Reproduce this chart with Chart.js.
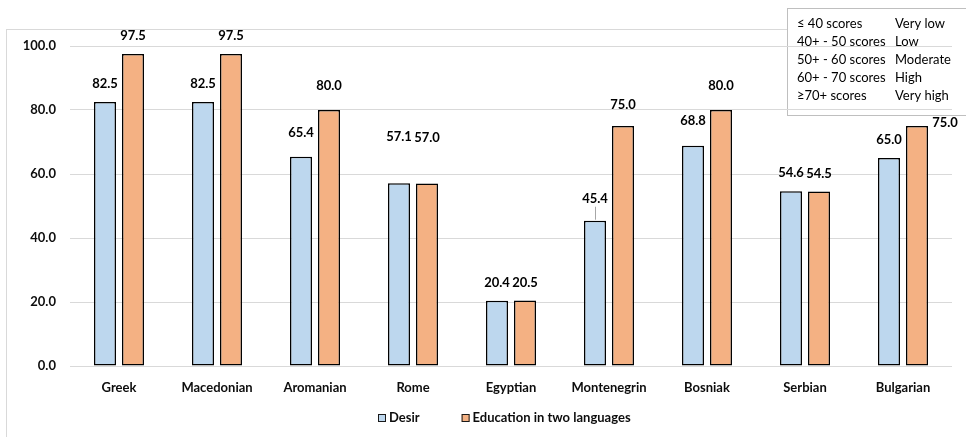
<!DOCTYPE html>
<html>
<head>
<meta charset="utf-8">
<script src="https://cdn.jsdelivr.net/npm/chart.js@4.4.1/dist/chart.umd.min.js"></script>
<style>
  html, body { margin: 0; padding: 0; background: #ffffff; }
  #wrap { width: 966px; height: 437px; position: relative; }
</style>
</head>
<body>
<div id="wrap"><canvas id="c" width="966" height="437"></canvas></div>
<script>
// Groups on the x axis
const categories = ['Greek', 'Macedonian', 'Aromanian', 'Rome', 'Egyptian', 'Montenegrin', 'Bosniak', 'Serbian', 'Bulgarian'];
// Scores per group
const desirScores = [82.5, 82.5, 65.4, 57.1, 20.4, 45.4, 68.8, 54.6, 65.0];
const bilingualScores = [97.5, 97.5, 80.0, 57.0, 20.5, 75.0, 80.0, 54.5, 75.0];
const seriesNames = ['Desir', 'Education in two languages'];
// Value axis
const yMin = 0;
const yMax = 100;
const yStep = 20;
// Score band key shown in the top-right box
const scoreBands = ['\u2264 40 scores', '40+ - 50 scores', '50+ - 60 scores', '60+ - 70 scores', '\u226570+ scores'];
const scoreLevels = ['Very low', 'Low', 'Moderate', 'High', 'Very high'];

const FONT = 'Lato, "Open Sans", "DejaVu Sans", sans-serif';
const TEXT = '#0d0d0d';
const GRID = '#d9d9d9';

// How far each value label sits above its bar (px); a few are moved by hand
const labelStyle = {
  lift: 18,
  overrides: {
    '0:3': { lift: 46 },
    '1:3': { lift: 46 },
    '0:2': { lift: 24 },
    '1:2': { lift: 24 },
    '0:6': { lift: 25 },
    '1:6': { lift: 24 },
    '1:5': { lift: 21 },
    '0:5': { lift: 22, leader: true },
    '1:8': { lift: 3, dx: 28 }
  }
};

// Frame around the whole chart and the score key box
const framePlugin = {
  id: 'frame',
  beforeDraw(chart) {
    const ctx = chart.ctx;
    ctx.save();
    ctx.fillStyle = '#ffffff';
    ctx.fillRect(0, 0, chart.width, chart.height);
    ctx.strokeStyle = GRID;
    ctx.lineWidth = 1;
    ctx.strokeRect(6.5, 29.5, chart.width + 20, chart.height + 20);

    // score key box
    ctx.fillStyle = '#ffffff';
    ctx.fillRect(787, 8, 200, 107);
    ctx.strokeStyle = '#bfbfbf';
    ctx.strokeRect(787.5, 8.5, 200, 107);
    ctx.fillStyle = '#000000';
    ctx.font = '13px ' + FONT;
    ctx.textBaseline = 'middle';
    ctx.textAlign = 'left';
    for (let i = 0; i < scoreBands.length; i++) {
      const y = 24 + i * 18;
      ctx.fillText(scoreBands[i], 797, y);
      ctx.fillText(scoreLevels[i], 895, y);
    }
    ctx.restore();
  }
};

// Value labels above the bars
const valueLabelPlugin = {
  id: 'valueLabels',
  afterDatasetsDraw(chart) {
    const ctx = chart.ctx;
    ctx.save();
    ctx.font = 'bold 13px ' + FONT;
    ctx.fillStyle = '#000000';
    ctx.textAlign = 'center';
    ctx.textBaseline = 'middle';
    chart.data.datasets.forEach((ds, di) => {
      const meta = chart.getDatasetMeta(di);
      meta.data.forEach((bar, i) => {
        const o = labelStyle.overrides[di + ':' + i] || {};
        const lift = o.lift !== undefined ? o.lift : labelStyle.lift;
        const x = bar.x + (o.dx || 0);
        const y = bar.y - lift;
        if (o.leader) {
          ctx.strokeStyle = '#a6a6a6';
          ctx.lineWidth = 1;
          ctx.beginPath();
          ctx.moveTo(Math.round(bar.x) + 0.5, bar.y - 1);
          ctx.lineTo(Math.round(bar.x) + 0.5, y + 8);
          ctx.stroke();
        }
        ctx.fillText(ds.data[i].toFixed(1), x, y);
      });
    });
    ctx.restore();
  }
};

// Legend along the bottom
const bottomLegendPlugin = {
  id: 'bottomLegend',
  afterDraw(chart) {
    const ctx = chart.ctx;
    ctx.save();
    ctx.font = 'bold 13px ' + FONT;
    ctx.textBaseline = 'middle';
    ctx.textAlign = 'left';
    const box = 8, boxGap = 3, itemGap = 42;
    const items = chart.data.datasets.map(ds => ({
      text: ds.label, fill: ds.backgroundColor, w: box + boxGap + ctx.measureText(ds.label).width
    }));
    const total = items.reduce((s, it) => s + it.w, 0) + itemGap * (items.length - 1);
    let x = Math.round(504 - total / 2);
    const y = 418;
    items.forEach(it => {
      ctx.fillStyle = it.fill;
      ctx.fillRect(x, y - box / 2, box, box);
      ctx.strokeStyle = '#1a1a1a';
      ctx.lineWidth = 1;
      ctx.strokeRect(x + 0.5, y - box / 2 + 0.5, box - 1, box - 1);
      ctx.fillStyle = TEXT;
      ctx.fillText(it.text, x + box + boxGap, y);
      x += it.w + itemGap;
    });
    ctx.restore();
  }
};

new Chart(document.getElementById('c'), {
  type: 'bar',
  data: {
    labels: categories,
    datasets: [
      {
        label: seriesNames[0],
        data: desirScores,
        backgroundColor: '#BDD7EE',
        borderColor: '#000000',
        borderWidth: 1.5,
        borderSkipped: false,
        categoryPercentage: 0.5714,
        barPercentage: 0.7857
      },
      {
        label: seriesNames[1],
        data: bilingualScores,
        backgroundColor: '#F4B183',
        borderColor: '#000000',
        borderWidth: 1.5,
        borderSkipped: false,
        categoryPercentage: 0.5714,
        barPercentage: 0.7857
      }
    ]
  },
  options: {
    responsive: false,
    animation: false,
    devicePixelRatio: 1,
    layout: { padding: { top: 46, bottom: 31, left: 0, right: 14 } },
    plugins: {
      legend: { display: false },
      tooltip: { enabled: false }
    },
    scales: {
      x: {
        grid: { display: false, drawTicks: false },
        border: { display: false },
        ticks: {
          color: TEXT,
          font: { family: FONT, size: 13, weight: 'bold' },
          padding: 14,
          maxRotation: 0
        },
        afterFit(scale) { scale.height = 40; }
      },
      y: {
        min: yMin,
        max: yMax,
        grid: { color: GRID, lineWidth: 1, drawTicks: false },
        border: { display: false },
        ticks: {
          stepSize: yStep,
          color: TEXT,
          font: { family: FONT, size: 13, weight: 'bold' },
          padding: 14,
          callback: v => Number(v).toFixed(1)
        },
        afterFit(scale) { scale.width = 70; }
      }
    }
  },
  plugins: [framePlugin, valueLabelPlugin, bottomLegendPlugin]
});
</script>
</body>
</html>
